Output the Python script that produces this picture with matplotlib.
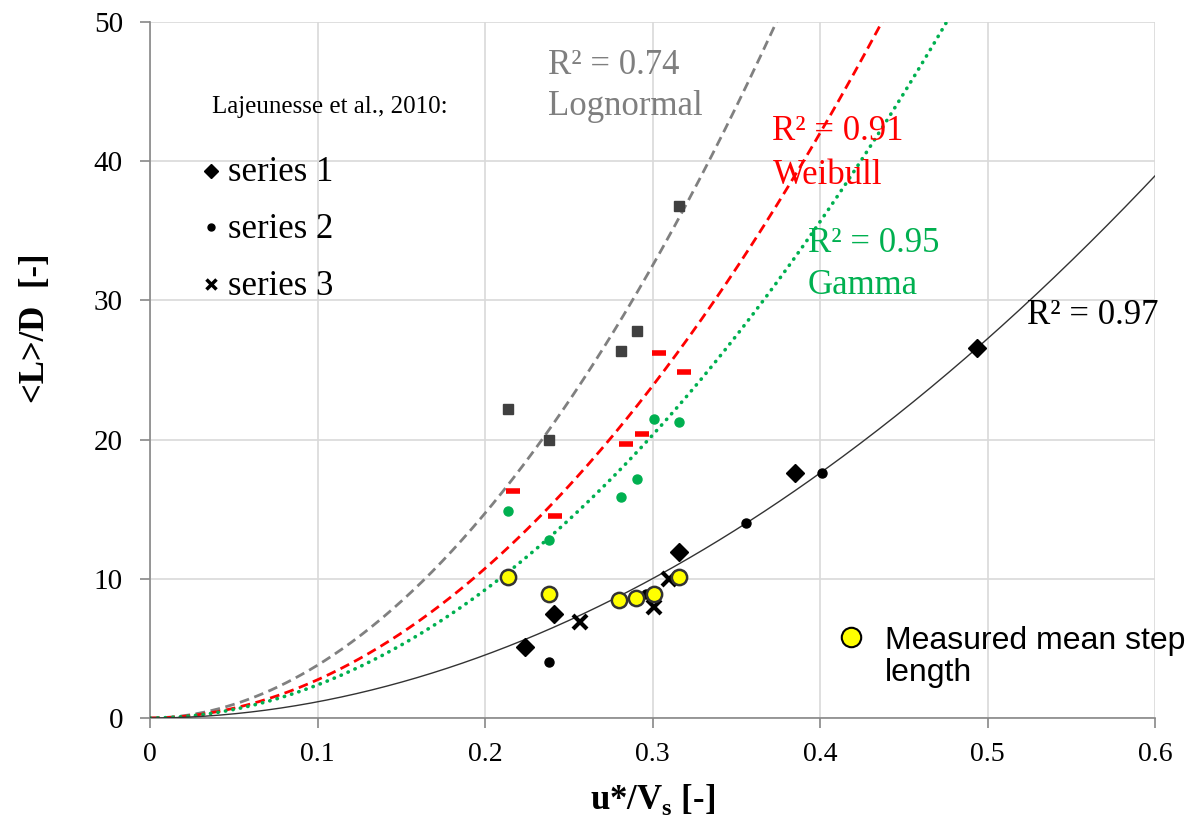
import matplotlib.pyplot as plt
import numpy as np

plt.rcParams['font.family'] = ['Liberation Serif', 'DejaVu Serif']
plt.rcParams['mathtext.fontset'] = 'custom'
plt.rcParams['mathtext.rm'] = 'Liberation Serif'
plt.rcParams['mathtext.bf'] = 'Liberation Serif:bold'

# Lajeunesse et al. 2010 data
s1_x = [0.224, 0.241, 0.316, 0.385, 0.494]
s1_y = [5.1, 7.5, 11.95, 17.6, 26.55]
s2_x = [0.238, 0.296, 0.356, 0.401]
s2_y = [4.0, 8.9, 14.0, 17.6]
s3_x = [0.257, 0.301, 0.310]
s3_y = [6.9, 7.95, 9.95]

# model results
logn_x = [0.214, 0.238, 0.281, 0.291, 0.316]
logn_y = [22.2, 20.0, 26.4, 27.8, 36.8]
weib_x = [0.217, 0.242, 0.284, 0.294, 0.304, 0.319]
weib_y = [16.3, 14.5, 19.7, 20.4, 26.25, 24.85]
gamma_x = [0.214, 0.238, 0.281, 0.291, 0.301, 0.316]
gamma_y = [14.9, 12.8, 15.9, 17.2, 21.5, 21.25]
meas_x = [0.214, 0.238, 0.280, 0.290, 0.301, 0.316]
meas_y = [10.1, 8.9, 8.45, 8.65, 8.9, 10.1]

# power law trend lines y = a * x^b
fit_logn = [342.0, 1.955]
fit_weib = [255.0, 1.968]
fit_gamma = [213.6, 1.954]
fit_data = [106.0, 1.96]

fig = plt.figure(figsize=(11.93, 8.24), dpi=100)
ax = fig.add_axes([150 / 1193, 106 / 824, 1005 / 1193, 696 / 824])

xx = np.linspace(0, 0.6, 400)
ax.plot(xx, fit_logn[0] * xx ** fit_logn[1], color='#808080', lw=2, ls=(0, (3.5, 2)), zorder=3)
ax.plot(xx, fit_weib[0] * xx ** fit_weib[1], color='#ff0000', lw=2, ls=(0, (3.5, 2)), zorder=3)
ax.plot(xx, fit_gamma[0] * xx ** fit_gamma[1], color='#00b050', lw=2.6, ls=(0, (0.1, 2.0)),
        dash_capstyle='round', zorder=3)
ax.plot(xx, fit_data[0] * xx ** fit_data[1], color='#333333', lw=1, zorder=3)

ax.plot(logn_x, logn_y, 's', color='#404040', ms=7, zorder=4)
ax.plot(weib_x, weib_y, '_', color='#ff0000', ms=10, mew=4, zorder=4)
ax.plot(gamma_x, gamma_y, 'o', color='#00b050', ms=6.5, zorder=4)
ax.plot(s2_x, s2_y, 'o', color='black', ms=6.5, zorder=4)
ax.plot(s3_x, s3_y, 'x', color='black', ms=10, mew=3, zorder=4)
ax.plot(s1_x, s1_y, 'D', color='black', ms=9, zorder=5)
ax.plot(meas_x, meas_y, 'o', mfc='#ffff00', mec='#333333', ms=11, mew=1.8, zorder=6)

ax.set_xlim(0, 0.6)
ax.set_ylim(0, 50)
ax.set_xticks([0, 0.1, 0.2, 0.3, 0.4, 0.5, 0.6])
ax.set_xticklabels(['0', '0.1', '0.2', '0.3', '0.4', '0.5', '0.6'])
ax.set_yticks([0, 10, 20, 30, 40, 50])
ax.grid(True, color='#d9d9d9', lw=1.2, zorder=0)
ax.set_axisbelow(True)
for s in ['top', 'right']:
    ax.spines[s].set_visible(False)
for s in ['left', 'bottom']:
    ax.spines[s].set_color('#888888')
    ax.spines[s].set_linewidth(1.2)
ax.tick_params(axis='both', colors='#888888', labelcolor='black', length=7, width=1.2)
ax.tick_params(axis='x', labelsize=20, pad=10)
ax.tick_params(axis='y', labelsize=21, pad=12.5)

ax.set_xlabel(r'u*/V$_{\mathbf{s}}$ [-]', fontsize=25, fontweight='bold')
ax.xaxis.set_label_coords(0.5, -0.092)
ax.set_ylabel('<L>/D  [-]', fontsize=25, fontweight='bold')
ax.yaxis.set_label_coords(-0.0975, 0.56)

# trend line annotations
ax.text(0.2376, 46.9, 'R² = 0.74', color='#7f7f7f', fontsize=25, va='center')
ax.text(0.2376, 43.9, 'Lognormal', color='#7f7f7f', fontsize=25, va='center')
ax.text(0.3716, 42.1, 'R² = 0.91', color='#ff0000', fontsize=25, va='center')
ax.text(0.3716, 39.0, 'Weibull', color='#ff0000', fontsize=25, va='center')
ax.text(0.3928, 34.1, 'R² = 0.95', color='#00b050', fontsize=25, va='center')
ax.text(0.3928, 31.1, 'Gamma', color='#00b050', fontsize=25, va='center')
ax.text(0.5236, 28.9, 'R² = 0.97', color='black', fontsize=25, va='center')

# hand made legend for the literature data
ax.text(0.0368, 43.9, 'Lajeunesse et al., 2010:', fontsize=18, va='center')
ax.plot([0.0364], [39.3], 'D', color='black', ms=7)
ax.plot([0.0364], [35.3], 'o', color='black', ms=5)
ax.plot([0.0364], [31.2], 'x', color='black', ms=7, mew=2.5)
ax.text(0.0468, 39.2, 'series 1', fontsize=25, va='center')
ax.text(0.0468, 35.1, 'series 2', fontsize=25, va='center')
ax.text(0.0468, 31.0, 'series 3', fontsize=25, va='center')

ax.plot([0.4183], [5.85], 'o', mfc='#ffff00', mec='black', ms=14, mew=1.5, clip_on=False)
ax.text(0.4388, 6.6, 'Measured mean step\nlength', fontsize=23, va='top',
        family=['Liberation Sans', 'DejaVu Sans'], linespacing=1.1)

plt.savefig('out.png', dpi=100)
